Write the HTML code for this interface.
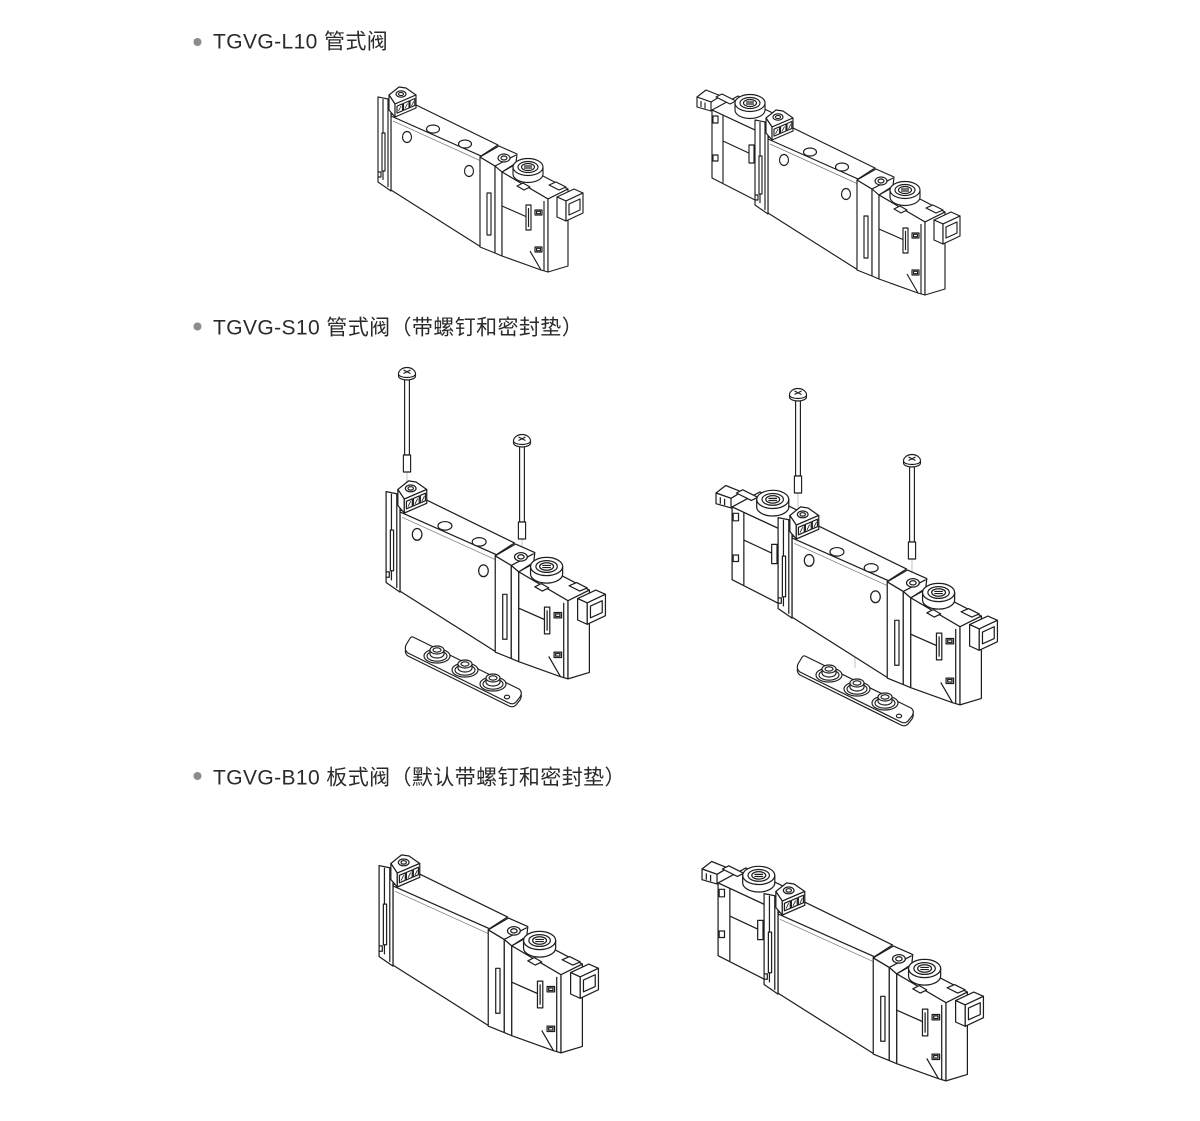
<!DOCTYPE html>
<html><head><meta charset="utf-8"><style>
html,body{margin:0;padding:0;background:#fff;}
svg{display:block;}
</style></head><body>
<svg width="1200" height="1121" viewBox="0 0 1200 1121" xmlns="http://www.w3.org/2000/svg" xmlns:xlink="http://www.w3.org/1999/xlink">
<defs>
<g id="knob" fill="#fff" stroke="#1e1e1e" stroke-width="1.15">
 <path d="M-15,0 V7 A15,8.5 0 0 0 15,7 V0 Z"/>
 <ellipse cx="0" cy="0" rx="15" ry="8.5"/>
 <ellipse cx="0" cy="0" rx="10" ry="5.5"/>
 <ellipse cx="0" cy="0" rx="6.5" ry="3.5"/>
 <path fill="none" d="M-4,-1 L4,-1 M-4,1 L4,1"/>
</g>
<g id="body" fill="#fff" stroke="#1e1e1e" stroke-width="1.15" stroke-linejoin="round">
 <polygon points="389,116 414,104 498,145 481,156"/>
 <polygon points="391,116 481,156 481,247 391,190"/>
 <polyline fill="none" stroke="#777" stroke-width="0.7" points="393,121 481,161"/>
</g>
<g id="holes" fill="#fff" stroke="#1e1e1e" stroke-width="1.15">
 <ellipse cx="433" cy="129" rx="6.5" ry="4"/>
 <ellipse cx="465" cy="144" rx="6.5" ry="4"/>
 <ellipse cx="407" cy="137" rx="4.5" ry="5.5"/>
 <ellipse cx="469" cy="171" rx="4.5" ry="5.5"/>
</g>
<g id="endcap" fill="#fff" stroke="#1e1e1e" stroke-width="1.15" stroke-linejoin="round">
 <polygon points="378,97 388,99 391,103 391,191 378,182"/>
 <path fill="none" d="M383,99 V180 M388,99 V187"/>
 <rect x="382" y="133" width="3" height="38"/>
 <path fill="none" d="M378,172 h3 v5 h-3"/>
 <polygon points="389,95 399,87 406,88 416,95 395,104"/>
 <polygon points="389,95 395,104 395,117 389,110"/>
 <polygon points="395,104 416,95 416,108 395,117"/>
 <polygon points="397,106.1 402.5,103.8 402.5,110.8 397,113.1"/>
 <polygon points="403.5,103.4 409,101 409,108 403.5,110.4"/>
 <polygon points="410,100.6 414.8,98.5 414.8,105.5 410,107.6"/>
 <path fill="none" stroke-width="0.8" d="M398.5,111 L401,106 M405,108.5 L407.5,103.5 M411.5,106 L413.8,101.3"/>
 <ellipse cx="401" cy="94" rx="5" ry="3.2"/>
 <ellipse cx="401" cy="94" rx="2.5" ry="1.6"/>
</g>
<g id="center" fill="#fff" stroke="#1e1e1e" stroke-width="1.15" stroke-linejoin="round">
 <polygon points="480,157 495,166 495,253 480,247"/>
 <polygon points="495,166 502,172 502,256 495,253"/>
 <polygon points="480,157 499,146 517,154 516,163 502,172 495,166"/>
 <path fill="none" d="M495,166 L516,155"/>
 <ellipse cx="504" cy="158" rx="6" ry="4"/>
 <ellipse cx="504" cy="158" rx="3" ry="2"/>
 <rect x="487" y="193" width="4" height="42"/>
</g>
<g id="sol" fill="#fff" stroke="#1e1e1e" stroke-width="1.15" stroke-linejoin="round">
 <polygon points="502,172 518,163 568,189 548,199"/>
 <polygon points="502,172 548,199 548,272 541,270 502,256"/>
 <polygon points="548,199 568,189 568,266 548,272"/>
 <path fill="none" d="M502,206 L527,217 M530,251 L541,270 M544,201 V271"/>
 <rect x="526" y="205" width="5" height="25"/>
 <path fill="none" d="M528.5,208 V227"/>
 <rect x="535" y="210" width="7" height="5"/><rect x="536.5" y="211.3" width="4" height="2.4"/>
 <rect x="535" y="247" width="7" height="5"/><rect x="536.5" y="248.3" width="4" height="2.4"/>
 <polygon points="517,186 523,183 530,187 524,190"/>
 <polygon points="549,185 556,182 566,187 559,190"/>
 <polygon points="557,197 574,189 583,193 566,201"/>
 <polygon points="557,197 566,201 566,221 557,217"/>
 <polygon points="566,201 583,193 583,213 566,221"/>
 <polygon points="569,204 580,199 580,210 569,215"/>
 <use href="#knob" xlink:href="#knob" x="528" y="167"/>
</g>
<g id="lsol" fill="#fff" stroke="#1e1e1e" stroke-width="1.15" stroke-linejoin="round">
 <polygon points="712,110 738,96 783,118 757,131"/>
 <polygon points="712,110 757,131 757,201 712,178"/>
 <path fill="none" d="M723,115 V183 M723,141 L753,155"/>
 <rect x="713" y="116" width="5" height="7"/>
 <rect x="713" y="155" width="5" height="6"/>
 <rect x="749" y="145" width="5" height="18"/>
 <polygon points="697,97 706,90 721,96 711,102"/>
 <polygon points="697,97 711,102 711,111 697,107"/>
 <path fill="none" d="M701,101 V107 M705,102.5 V108.5"/>
 <polygon points="716,97 722,94 736,101 730,104"/>
 <use href="#knob" xlink:href="#knob" x="750" y="103"/>
</g>
<g id="single">
 <use href="#body" xlink:href="#body"/>
 <use href="#endcap" xlink:href="#endcap"/>
 <use href="#center" xlink:href="#center"/>
 <use href="#sol" xlink:href="#sol"/>
</g>
<g id="double">
 <use href="#lsol" xlink:href="#lsol"/>
 <g transform="translate(377,23)">
  <use href="#body" xlink:href="#body"/>
  <use href="#endcap" xlink:href="#endcap"/>
  <use href="#center" xlink:href="#center"/>
  <use href="#sol" xlink:href="#sol"/>
 </g>
</g>
<g id="screw" fill="#fff" stroke="#1e1e1e" stroke-width="1.15" stroke-linejoin="round">
 <rect x="-2.4" y="4" width="4.8" height="78"/>
 <rect x="-3.6" y="82" width="7.2" height="17"/>
 <path d="M-8.5,1 V3 A8.5,4 0 0 0 8.5,3 V1 Z"/>
 <path d="M-8.5,1 A8.5,6.5 0 0 1 8.5,1 A8.5,3.5 0 0 1 -8.5,1 Z"/>
 <path fill="none" d="M-3.5,-3 L3.5,0.5 M-3.5,0.5 L3.5,-3"/>
</g>
<g id="gasket" fill="#fff" stroke="#1e1e1e" stroke-width="1.15" stroke-linejoin="round">
 <path transform="translate(0,3)" d="M413,637 L519,689 Q523,692 520,697 L516,702 Q513,705 509,703 L408,653 Q404,650 406,645 L409,640 Q411,636 413,637 Z"/>
 <path d="M413,637 L519,689 Q523,692 520,697 L516,702 Q513,705 509,703 L408,653 Q404,650 406,645 L409,640 Q411,636 413,637 Z"/>
 <ellipse cx="437" cy="656" rx="13" ry="7"/><ellipse cx="437" cy="656" rx="10" ry="5.2"/>
 <path d="M430,650 V654 A7,4 0 0 0 444,654 V650"/><ellipse cx="437" cy="650" rx="7" ry="4"/><ellipse cx="437" cy="650" rx="4" ry="2.2"/>
 <ellipse cx="465" cy="670" rx="13" ry="7"/><ellipse cx="465" cy="670" rx="10" ry="5.2"/>
 <path d="M458,664 V668 A7,4 0 0 0 472,668 V664"/><ellipse cx="465" cy="664" rx="7" ry="4"/><ellipse cx="465" cy="664" rx="4" ry="2.2"/>
 <ellipse cx="493" cy="684" rx="13" ry="7"/><ellipse cx="493" cy="684" rx="10" ry="5.2"/>
 <path d="M486,678 V682 A7,4 0 0 0 500,682 V678"/><ellipse cx="493" cy="678" rx="7" ry="4"/><ellipse cx="493" cy="678" rx="4" ry="2.2"/>
 <ellipse cx="507" cy="697" rx="2.6" ry="1.8"/>
</g>
</defs>

<!-- Headings -->
<g font-family="'Liberation Sans','Noto Sans CJK SC',sans-serif" font-size="21" fill="#2a2a2a" letter-spacing="0.4">
 <circle cx="197.5" cy="42" r="4" fill="#8c8c8c"/>
 <text x="213" y="48.5">TGVG-L10 管式阀</text>
 <circle cx="197.5" cy="326.5" r="4" fill="#8c8c8c"/>
 <text x="213" y="334.3">TGVG-S10 管式阀（带螺钉和密封垫）</text>
 <circle cx="197.5" cy="776" r="4" fill="#8c8c8c"/>
 <text x="213" y="784.3">TGVG-B10 板式阀（默认带螺钉和密封垫）</text>
</g>

<!-- L10 -->
<use href="#single" xlink:href="#single"/>
<use href="#holes" xlink:href="#holes"/>
<use href="#double" xlink:href="#double"/>
<use href="#holes" xlink:href="#holes" transform="translate(377,23)"/>

<!-- faint guide lines -->
<g fill="none" stroke="#aaa" stroke-width="0.7">
 <path d="M407,471 V490 M522,537 V556 M798,492 V512 M912,558 V580 M855,640 V668"/>
</g>

<!-- S10 single -->
<use href="#gasket" xlink:href="#gasket"/>
<g transform="translate(-18.37,387.81) scale(1.07)">
 <use href="#single" xlink:href="#single"/>
 <use href="#holes" xlink:href="#holes"/>
</g>
<use href="#screw" xlink:href="#screw" transform="translate(407,373)"/>
<use href="#screw" xlink:href="#screw" transform="translate(522,440)"/>

<!-- S10 double -->
<use href="#gasket" xlink:href="#gasket" transform="translate(392,19)"/>
<g transform="translate(-29.76,389.2) scale(1.07)">
 <use href="#double" xlink:href="#double"/>
 <use href="#holes" xlink:href="#holes" transform="translate(377,23)"/>
</g>
<use href="#screw" xlink:href="#screw" transform="translate(798,394)"/>
<use href="#screw" xlink:href="#screw" transform="translate(912,460)"/>

<!-- B10 -->
<g transform="translate(-25.37,761.81) scale(1.07)">
 <use href="#single" xlink:href="#single"/>
</g>
<g transform="translate(-43.76,765.2) scale(1.07)">
 <use href="#double" xlink:href="#double"/>
</g>
</svg>
</body></html>
